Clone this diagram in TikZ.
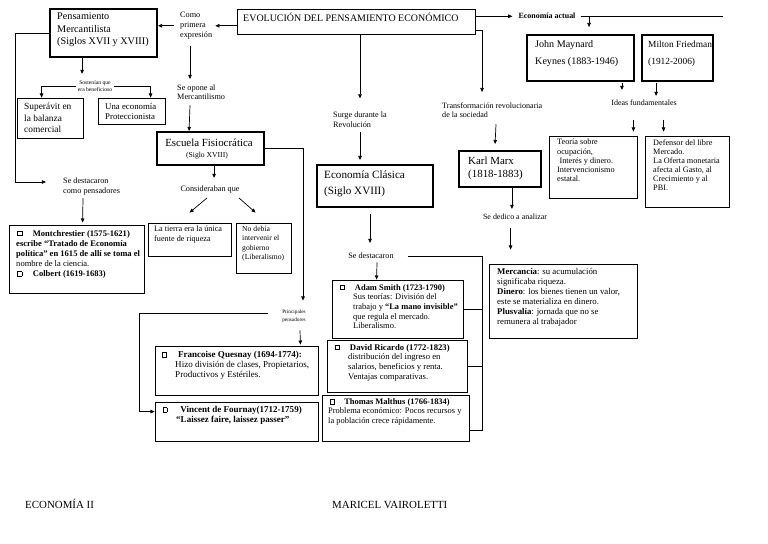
\documentclass[tikz,border=0pt]{standalone}
\usepackage{fontspec}
\setmainfont{Liberation Serif}
\usetikzlibrary{arrows.meta,calc,fit}
\newcommand{\fs}[2]{\fontsize{#1}{#2}\selectfont}
\newcommand{\sqb}{\raisebox{0.2ex}{\setlength{\fboxsep}{0pt}\setlength{\fboxrule}{0.5pt}\fbox{\rule{0pt}{3.2pt}\rule{3.2pt}{0pt}}}}
\newcommand{\itm}[1]{\llap{\sqb\hspace{#1}}}
\tikzset{
  frame/.style={draw, inner sep=0pt, line width=0.7pt},
  thickframe/.style={frame, line width=1.6pt},
  txt/.style={anchor=north west, align=left, inner sep=0pt},
  lbl/.style={align=center, inner sep=0pt},
  arr/.style={-{Triangle[length=3.5pt,width=3pt]}, line width=0.6pt},
  ln/.style={line width=0.6pt},
}
\begin{document}
\begin{tikzpicture}[x=0.03cm, y=-0.03cm]
\useasboundingbox (0,0) rectangle (768,544);
% title
\node[frame, fit={(237,9) (475,34)}] (title) {};
\node[anchor=base west, inner sep=0pt, font=\fs{8.5}{10}] (title-t) at (243,22) {EVOLUCIÓN DEL PENSAMIENTO ECONÓMICO};
% mercantilismo
\node[txt, font=\fs{7}{8.5}] (como) at (180,12) {Como\\primera\\expresión};
\node[thickframe, fit={(50,9) (157,57)}] (merc) {};
\node[txt, font=\fs{8.7}{10.3}] (merc-t) at (57,13) {Pensamiento\\Mercantilista\\(Siglos XVII y XVIII)};
\draw[arr] (title.west |- como.west) -- ($(como.east)+(3,0)$);
\draw[arr] ($(como.west)+(-6,0)$) -- (merc.east |- como.west);
\node[lbl, font=\fs{4.8}{6}] (sost) at (95,86) {Sostenían que\\era beneficioso};
\node[frame, fit={(17,98) (83,138)}] (sup) {};
\node[txt, font=\fs{8}{9.8}] (sup-t) at (24,103) {Superávit en\\la balanza\\comercial};
\node[frame, fit={(98,98) (165,124)}] (prot) {};
\node[txt, font=\fs{7.5}{8.5}] (prot-t) at (105,103.5) {Una economía\\Proteccionista};
\draw[arr] (merc.south west) ++(33,0) -- ++(0,16);
\draw[arr] ($(sost.west)+(-2,0)$) -| ($(sup.north west)+(25,0)$);
\draw[arr] ($(sost.east)+(2,0)$) -| ($(prot.north west)+(53,0)$);
\node[txt, font=\fs{7}{7.9}] (destac) at (63,178) {Se destacaron\\como pensadores};
\node[frame, fit={(9,225) (144,293)}] (montch) {};
\node[txt, font=\fs{7.3}{8.6}] (montch-t) at (16,230) {\hspace*{1pt}\sqb\hspace{9pt}\textbf{Montchrestier (1575-1621)}\\
  \textbf{escribe “Tratado de Economía}\\
  \textbf{política” en 1615 de allí se toma el}\\
  nombre de la ciencia.\\
  \hspace*{1pt}\sqb\hspace{9pt}\textbf{Colbert (1619-1683)}};
\draw[arr] (merc.west) -| ($(destac.north west)+(-48,4)$) -- ($(destac.north west)+(-17,4)$);
\draw[arr] ($(destac.south west)+(20,3)$) -- ($(montch.north west)+(74,-2)$);
% fisiocracia
\node[txt, font=\fs{7}{7.7}] (opone) at (177,85) {Se opone al\\Mercantilismo};
\node[thickframe, fit={(157,132) (264,165)}] (fisio) {};
\node[anchor=base, inner sep=0pt, font=\fs{9.3}{11}] (fisio-a) at (209,147) {Escuela Fisiocrática};
\node[anchor=base, inner sep=0pt, font=\fs{6.5}{8}] (fisio-b) at (207,158) {(Siglo XVIII)};
\draw[arr] ($(como.south west)+(10,6)$) -- ($(opone.north west)+(13,-6)$);
\draw[arr] ($(opone.south west)+(13,5)$) -- ($(fisio.north west)+(33,0)$);
\node[anchor=base, inner sep=0pt, font=\fs{7}{8}] (consid) at (210,192) {Consideraban que};
\node[frame, fit={(148,223) (231,256)}] (tierra) {};
\node[txt, font=\fs{7}{8.5}] (tierra-t) at (154,226) {La tierra era la única\\fuente de riqueza};
\node[frame, fit={(236,223) (291,273)}] (nodebia) {};
\node[txt, font=\fs{6.5}{7.9}] (nodebia-t) at (242,226) {No debía\\intervenir el\\gobierno\\(Liberalismo)};
\draw[arr] (fisio.south west) ++(58,0) -- ++(0,12);
\draw[arr] ($(consid.south)+(-3,4)$) -- ($(tierra.north west)+(42,-10)$);
\draw[arr] ($(consid.south)+(29,4)$) -- ($(nodebia.north west)+(20,-10)$);
\node[lbl, font=\fs{4.5}{6.5}] (princ) at (294,316) {Principales\\pensadores};
\node[frame, fit={(155,346) (318,395)}] (quesnay) {};
\node[txt, font=\fs{7.7}{8.5}] (quesnay-t) at (175,351) {\itm{7pt}\hspace*{2.5pt}\textbf{Francoise Quesnay (1694-1774):}\\
  Hizo división de clases, Propietarios,\\
  Productivos y Estériles.};
\node[frame, fit={(155,402) (318,441)}] (fournay) {};
\node[txt, font=\fs{7.7}{8.5}] (fournay-t) at (176,406) {\itm{7.5pt}\hspace*{3.5pt}\textbf{Vincent de Fournay(1712-1759)}\\
  \textbf{“Laissez faire, laissez passer”}};
\draw[arr] (fisio.east) -| ($(princ.north)+(9,-9)$);
\draw[arr] ($(princ.south)+(6,8)$) -- ($(quesnay.north east)+(-18,-1)$);
\draw[arr] ($(princ.west)+(-14,-3)$) -| ($(fournay.north west)+(-15,10)$) -- ($(fournay.north west)+(0,10)$);
% economia clasica
\node[txt, font=\fs{7}{8.5}] (surge) at (333,112) {Surge durante la\\Revolución};
\node[thickframe, fit={(317,165) (433,207)}] (clasica) {};
\node[txt, font=\fs{9.5}{13.6}] (clasica-t) at (324,171) {Economía Clásica\\(Siglo XVIII)};
\draw[arr] ($(title.south)+(4,0)$) -- ++(0,64);
\draw[arr] ($(surge.south west)+(27,4)$) -- ($(clasica.north)+(-15,-4)$);
\node[anchor=base, inner sep=0pt, font=\fs{7}{8}] (sedest) at (371,259) {Se destacaron};
\node[frame, fit={(332,280) (463,338)}] (smith) {};
\node[txt, font=\fs{7.2}{8.3}] (smith-t) at (353,284) {\itm{7pt}\hspace*{1.5pt}\textbf{Adam Smith (1723-1790)}\\
  Sus teorías: División del\\
  trabajo y \textbf{“La mano invisible”}\\
  que regula el mercado.\\
  Liberalismo.};
\node[frame, fit={(327,340) (467,392)}] (ricardo) {};
\node[txt, font=\fs{7.4}{8.3}] (ricardo-t) at (348,344) {\itm{7.5pt}\hspace*{1.5pt}\textbf{David Ricardo (1772-1823)}\\
  distribución del ingreso en\\
  salarios, beneficios y renta.\\
  Ventajas comparativas.};
\node[frame, fit={(322,395) (469,441)}] (malthus) {};
\node[txt, font=\fs{7.2}{8}] (malthus-t) at (328,398.5) {\hspace*{1.5pt}\sqb\hspace{8pt}\textbf{Thomas Malthus (1766-1834)}\\
  Problema económico: Pocos recursos y\\
  la población crece rápidamente.};
\draw[arr] ($(clasica.south)+(-5,6)$) -- ++(0,29);
\draw[arr] ($(sedest.south)+(6,3)$) -- ($(smith.north west)+(45,0)$);
\coordinate (brk) at (482,257);
\coordinate (brkend) at (482,430);
\draw[ln] ($(sedest.east)+(14,0)$) -- (sedest.east -| brk) -- (brkend) -- (brkend -| malthus.east);
\draw[ln] (smith.east) -- (smith.east -| brk);
\draw[ln] (ricardo.east) -- (ricardo.east -| brk);
% economia actual
\node[anchor=base, inner sep=0pt, font=\fs{6.8}{8}\bfseries] (actual) at (547,19) {Economía actual};
\coordinate (actend) at (723,0);
\node[thickframe, fit={(527,35) (634,81)}] (keynes) {};
\node[txt, font=\fs{8.6}{14}] (keynes-t) at (535,40.5) {John Maynard\\Keynes (1883-1946)};
\node[thickframe, fit={(642,35) (713,81)}] (friedman) {};
\node[txt, font=\fs{8}{14}] (friedman-t) at (648,41) {Milton Friedman\\(1912-2006)};
\draw[arr] (title.east |- actual.west) -- ($(actual.west)+(-6,0)$);
\draw[ln] ($(actual.east)+(5,0)$) -- (actend |- actual.east);
\draw[arr] (keynes.north west) ++(63,-17) -- ++(0,10);
\node[anchor=base, inner sep=0pt, font=\fs{6.8}{8}] (ideas) at (644,106) {Ideas fundamentales};
\node[frame, fit={(549,136) (637,198)}] (teoria) {};
\node[txt, font=\fs{7}{7.8}] (teoria-t) at (557,139) {Teoría sobre\\ocupación,\\\hspace*{2pt}Interés y dinero.\\Intervencionismo\\estatal.};
\node[frame, fit={(645,136) (729,207)}] (defensor) {};
\node[txt, font=\fs{7}{7.7}] (defensor-t) at (653,139) {Defensor del libre\\Mercado.\\La Oferta monetaria\\afecta al Gasto, al\\Crecimiento y al\\PBI.};
\draw[arr] ($(keynes.south east)+(-13,1)$) -- ++(0,7);
\draw[arr] ($(friedman.south west)+(15,1)$) -- ++(0,13);
\draw[arr] ($(teoria.north east)+(-4,-16)$) -- ++(0,12);
\draw[arr] ($(defensor.north west)+(19,-16)$) -- ++(0,12);
% marx
\node[txt, font=\fs{6.9}{7.7}] (transf) at (442,103) {Transformación revolucionaria\\de la sociedad};
\node[thickframe, fit={(459,151) (541,187)}] (marx) {};
\node[txt, font=\fs{9.3}{11}] (marx-t) at (468,157) {Karl Marx\\(1818-1883)};
\node[anchor=base, inner sep=0pt, font=\fs{6.8}{8}] (analizar) at (515,220) {Se dedico a analizar};
\node[frame, fit={(489,264) (637,338)}] (mercancia) {};
\node[txt, font=\fs{7.5}{8.5}] (mercancia-t) at (497,268) {\textbf{Mercancía}: su acumulación\\
  significaba riqueza.\\
  \textbf{Dinero}: los bienes tienen un valor,\\
  este se materializa en dinero.\\
  \textbf{Plusvalía}: jornada que no se\\
  remunera al trabajador};
\draw[arr] ($(title.south east)+(0,-4)$) -| ($(marx.north west)+(24,-58)$);
\draw[arr] ($(transf.south west)+(54,6)$) -- ($(marx.north west)+(37,-6)$);
\draw[arr] ($(marx.south east)+(-30,0)$) -- ++(0,21);
\draw[arr] ($(mercancia.north west)+(22,-36)$) -- ++(0,22);
% pie
\node[anchor=base west, inner sep=0pt, font=\fs{9.3}{11}] (materia) at (25,508) {ECONOMÍA II};
\node[anchor=base west, inner sep=0pt, font=\fs{9.3}{11}] (autora) at (332,508) {MARICEL VAIROLETTI};
\end{tikzpicture}
\end{document}
